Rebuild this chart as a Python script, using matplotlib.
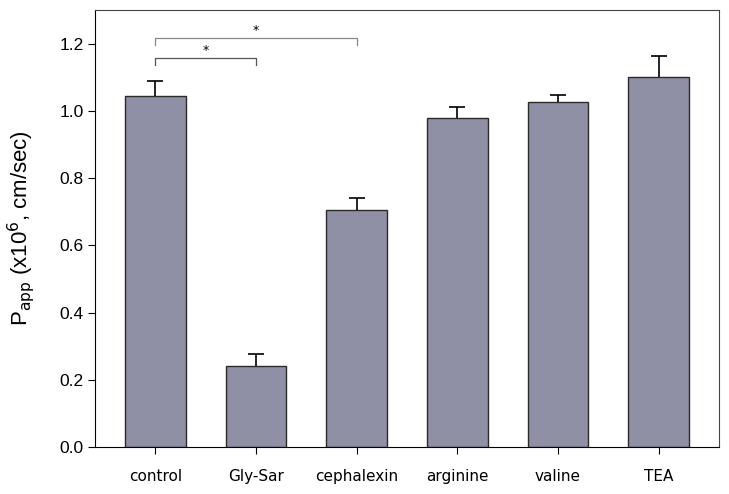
import numpy as np
import matplotlib.pyplot as plt

categories = ['control', 'Gly-Sar', 'cephalexin', 'arginine', 'valine', 'TEA']
papp = [1.043, 0.240, 0.704, 0.979, 1.027, 1.101]
sem = [0.047, 0.037, 0.038, 0.032, 0.021, 0.063]

# significance brackets: (from, to, height)
brackets = [(0, 1, 1.157), (0, 2, 1.217)]

fig = plt.figure(figsize=(7.29, 4.94), dpi=100)
ax = fig.add_axes([95 / 729, 1 - 447 / 494, 624 / 729, 437 / 494])

x = np.arange(len(categories))
ax.bar(x, papp, width=0.6, color='#8f8fa6', edgecolor='#2a2a2a', linewidth=1.0, zorder=2)
_, caps, _ = ax.errorbar(x, papp, yerr=[np.zeros(len(sem)), sem], fmt='none', ecolor='black',
                         elinewidth=1.2, capsize=6, capthick=1.2, zorder=3)
caps[0].set_visible(False)  # only upper caps

cols = ['#555555', '#888888']
for (a, b, h), c in zip(brackets, cols):
    ax.plot([a, a, b, b], [h - 0.02, h, h, h - 0.02], color=c, lw=0.9)
    ax.text((a + b) / 2, h + 0.003, '*', ha='center', va='bottom', fontsize=9, color='black')

ax.set_xlim(-0.6, 5.6)
ax.set_ylim(0, 1.3)
ax.set_yticks([0.0, 0.2, 0.4, 0.6, 0.8, 1.0, 1.2])
ax.set_yticklabels(['%.1f' % v for v in ax.get_yticks()], fontsize=12.5, family='Liberation Sans')
ax.set_xticks(x)
ax.set_xticklabels(categories, fontsize=11, family='DejaVu Sans')
ax.tick_params(axis='x', length=5, pad=11)
ax.tick_params(axis='y', length=5, pad=3)
ax.set_ylabel('P$_{\\mathrm{app}}$ (x10$^{6}$, cm/sec)', fontsize=16, family='Liberation Sans', labelpad=16)
for s in ['top', 'right']:
    ax.spines[s].set_color('#444444')
    ax.spines[s].set_linewidth(0.8)

fig.savefig('out.png', dpi=100)
